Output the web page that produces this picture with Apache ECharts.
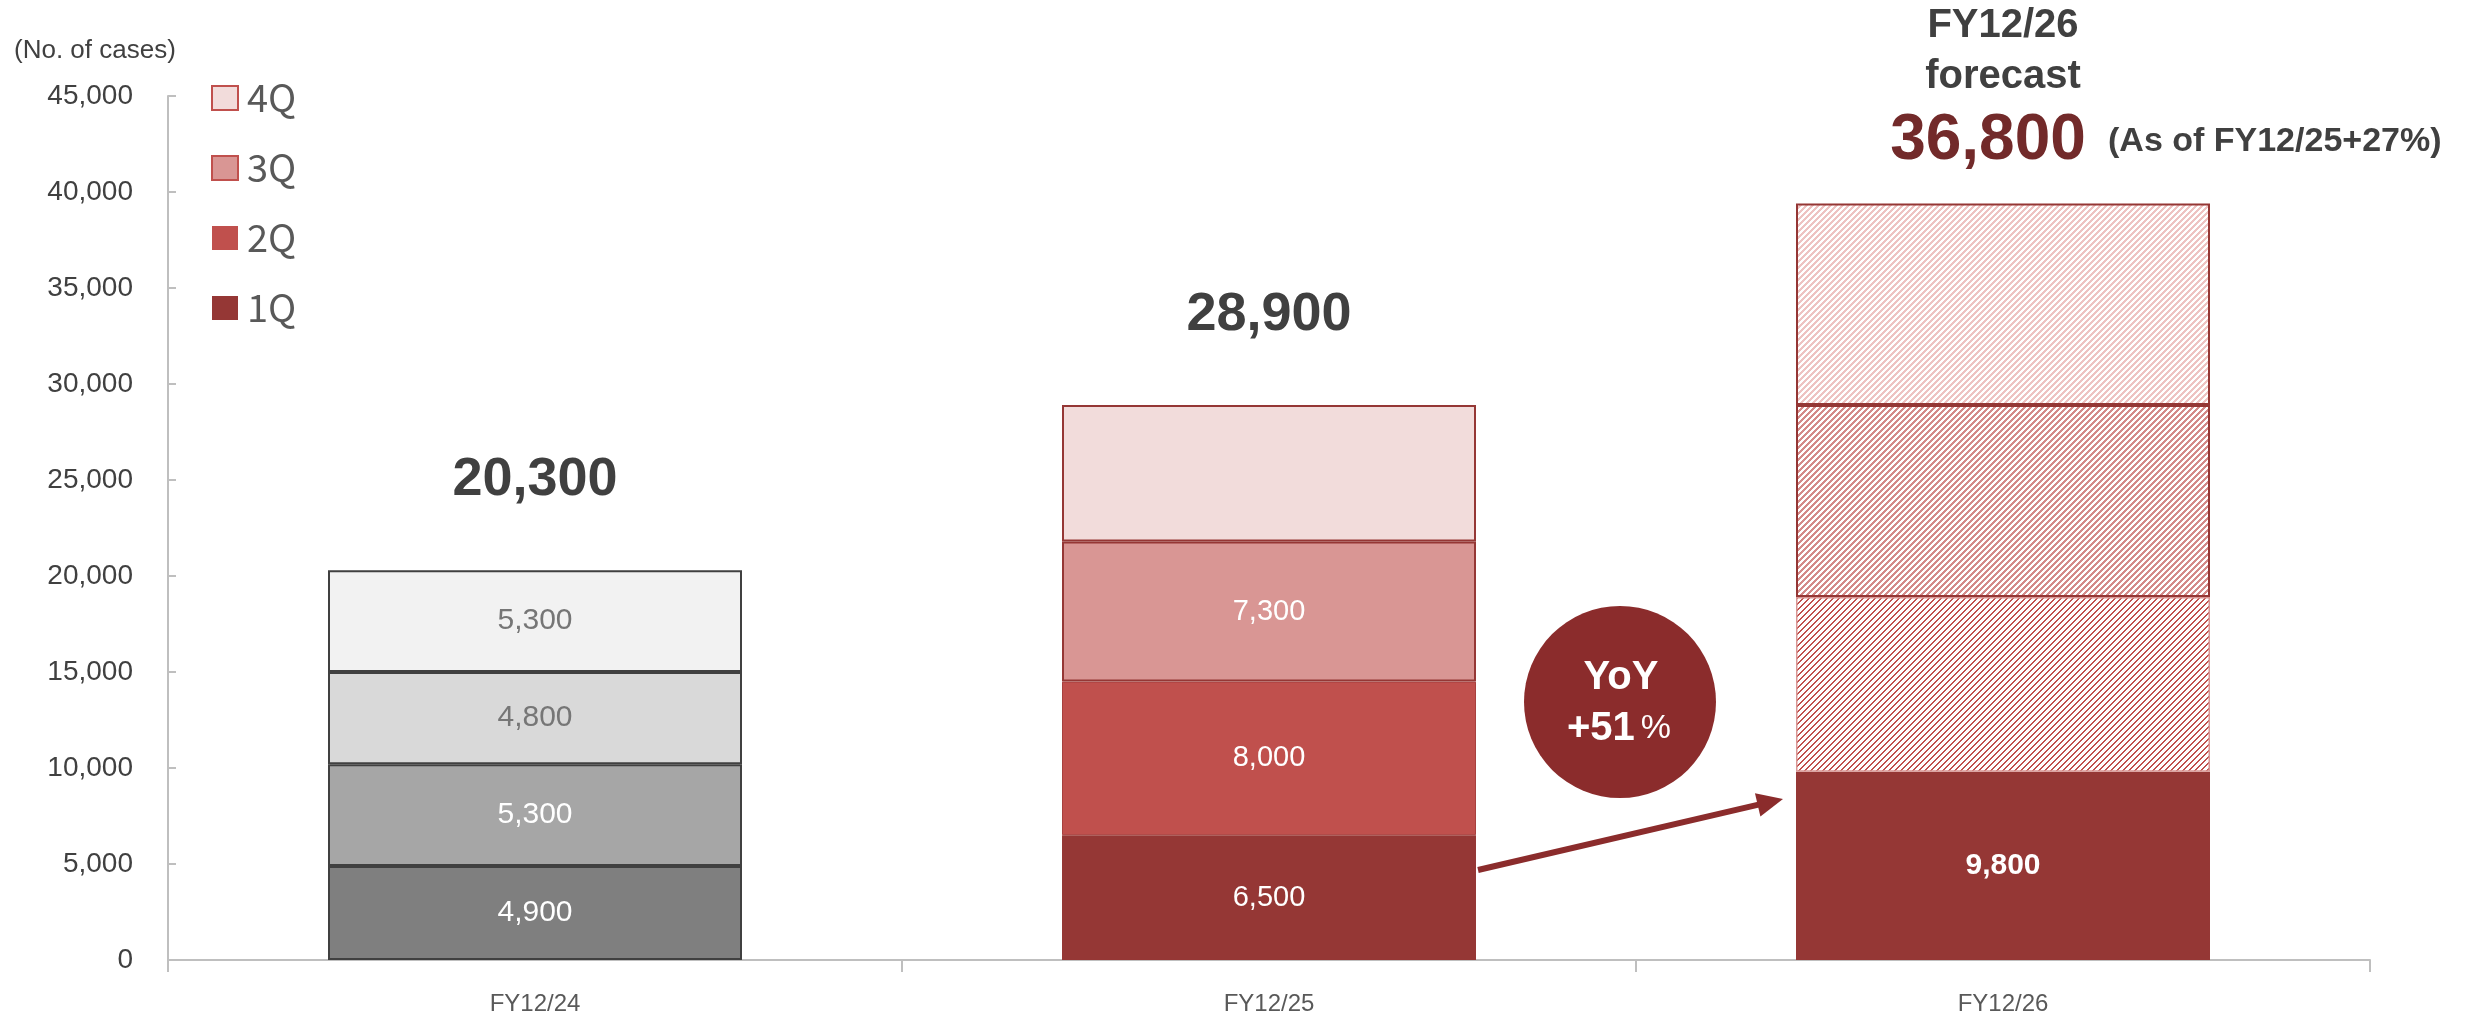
<!DOCTYPE html>
<html>
<head>
<meta charset="utf-8">
<title>Number of cases by quarter</title>
<script src="https://cdn.jsdelivr.net/npm/echarts@6/dist/echarts.min.js"></script>
<style>
  html, body { margin: 0; padding: 0; background: #ffffff; }
  #chart { width: 2469px; height: 1020px; }
</style>
</head>
<body>
<div id="chart"></div>
<script>
// ---- data ----
const categories = ['FY12/24', 'FY12/25', 'FY12/26'];
const quarterNames = ['1Q', '2Q', '3Q', '4Q'];
const q1 = [4900, 6500, 9800];
const q2 = [5300, 8000, 9100];
const q3 = [4800, 7300, 10000];
const q4 = [5300, 7100, 10500];
const totals = [20300, 28900];
const forecastTotal = 36800;
const forecastNote = '(As of FY12/25+27%)';
const yoyGrowth = 51;

// ---- styling ----
const FONT = "'Liberation Sans', Arial, sans-serif";
const NARROW = "'Liberation Sans Narrow', 'Arial Narrow', 'Liberation Sans', sans-serif";
const greyFill = ['#7f7f7f', '#a6a6a6', '#d9d9d9', '#f2f2f2'];
const greyText = ['#ffffff', '#ffffff', '#767676', '#767676'];
const redFill = ['#953735', '#c0504d', '#d99694', '#f2dcdb'];
const darkRed = '#953735';

// diagonal hatch tile used for the forecast quarters
function hatch(color, width) {
  const size = 6;
  const c = document.createElement('canvas');
  c.width = size; c.height = size;
  const ctx = c.getContext('2d');
  ctx.fillStyle = '#ffffff';
  ctx.fillRect(0, 0, size, size);
  ctx.fillStyle = color;
  for (let y = 0; y < size; y++) {
    for (let x = 0; x < size; x++) {
      if (((x + y) % size) < width) ctx.fillRect(x, y, 1, 1);
    }
  }
  return { image: c, repeat: 'repeat' };
}
const hatchFill = [null, hatch('#c0504d', 2), hatch('#d48a89', 3), hatch('#eec3c2', 3)];

const fmt = v => v.toLocaleString('en-US');
const quarterValues = [q1, q2, q3, q4];

function segment(qi, ci) {
  const value = quarterValues[qi][ci];
  const label = { show: true, position: 'inside', fontFamily: FONT, fontSize: 29, formatter: fmt(value) };
  let itemStyle;
  if (ci === 0) {
    itemStyle = { color: greyFill[qi], borderColor: '#404040', borderWidth: 2 };
    label.color = greyText[qi];
    label.fontFamily = NARROW;
    label.fontSize = 30;
  } else if (ci === 1) {
    itemStyle = { color: redFill[qi] };
    if (qi >= 2) { itemStyle.borderColor = darkRed; itemStyle.borderWidth = 2; }
    else if (qi === 1) { itemStyle.borderColor = '#a8403e'; itemStyle.borderWidth = 1; }
    label.color = '#ffffff';
    if (qi === 3) label.show = false;
  } else {
    if (qi === 0) {
      itemStyle = { color: redFill[0] };
      label.color = '#ffffff';
      label.fontWeight = 'bold';
      label.fontFamily = NARROW;
      label.fontSize = 30;
    } else {
      itemStyle = { color: hatchFill[qi] };
      if (qi >= 2) { itemStyle.borderColor = darkRed; itemStyle.borderWidth = 2; }
      else { itemStyle.borderColor = '#d99694'; itemStyle.borderWidth = 1.5; }
      label.show = false;
    }
  }
  return { value, itemStyle, label };
}

const barSeries = quarterNames.map((name, qi) => ({
  name,
  type: 'bar',
  stack: 'cases',
  barWidth: 414,
  itemStyle: { color: redFill[qi] },
  emphasis: { disabled: true },
  data: categories.map((_, ci) => segment(qi, ci))
}));

// totals printed above the completed years
const totalSeries = {
  name: 'Total',
  type: 'scatter',
  symbolSize: 1,
  itemStyle: { color: 'rgba(0,0,0,0)', opacity: 1 },
  silent: true,
  data: totals.map((t, i) => [i, t]),
  label: {
    show: true,
    position: 'inside',
    offset: [0, -90],
    formatter: p => fmt(p.value[1]),
    fontFamily: FONT,
    fontSize: 54,
    fontWeight: 'bold',
    color: '#404040',
    opacity: 1
  }
};

const legendData = ['4Q', '3Q', '2Q', '1Q'].map(n => {
  const qi = quarterNames.indexOf(n);
  return {
    name: n,
    itemStyle: { color: redFill[qi], borderColor: '#c0504d', borderWidth: qi >= 2 ? 2 : 0 }
  };
});

// arrow from FY12/25 1Q to FY12/26 1Q
const arrowFrom = [1478, 870];
const arrowTo = [1783, 799];
const dx = arrowTo[0] - arrowFrom[0], dy = arrowTo[1] - arrowFrom[1];
const len = Math.hypot(dx, dy), ux = dx / len, uy = dy / len;
const headLen = 26, headHalf = 12;
const base = [arrowTo[0] - ux * headLen, arrowTo[1] - uy * headLen];

const option = {
  backgroundColor: '#ffffff',
  animation: false,
  grid: { left: 168, right: 99, top: 96, bottom: 60 },
  legend: {
    orient: 'vertical',
    left: 211,
    top: 79,
    padding: 0,
    itemWidth: 26,
    itemHeight: 24,
    itemGap: 32,
    icon: 'rect',
    selectedMode: false,
    data: legendData,
    textStyle: { fontFamily: "'Noto Sans CJK JP', 'Noto Sans', sans-serif", fontSize: 38, color: '#595959', padding: [0, 0, 0, 4] }
  },
  xAxis: {
    type: 'category',
    data: categories,
    axisLine: { lineStyle: { color: '#bfbfbf', width: 2 } },
    axisTick: { show: true, length: 12, lineStyle: { color: '#bfbfbf', width: 2 } },
    axisLabel: { fontFamily: FONT, fontSize: 24, color: '#595959', margin: 32 }
  },
  yAxis: {
    type: 'value',
    min: 0,
    max: 45000,
    interval: 5000,
    splitLine: { show: false },
    axisLine: { show: true, lineStyle: { color: '#bfbfbf', width: 2 } },
    axisTick: { show: true, inside: true, length: 8, lineStyle: { color: '#bfbfbf', width: 2 } },
    axisLabel: { fontFamily: FONT, fontSize: 28, color: '#404040', margin: 35, formatter: v => fmt(v) }
  },
  series: [...barSeries, totalSeries],
  graphic: [
    { type: 'text', left: 14, top: 38, style: { text: '(No. of cases)', font: `26px ${FONT}`, fill: '#404040' } },
    { type: 'text', x: 2003, y: 26, style: { text: 'FY12/26', font: `bold 40px ${FONT}`, fill: '#404040', align: 'center', verticalAlign: 'middle' } },
    { type: 'text', x: 2003, y: 77, style: { text: 'forecast', font: `bold 40px ${FONT}`, fill: '#404040', align: 'center', verticalAlign: 'middle' } },
    { type: 'text', x: 1988, y: 141, style: { text: fmt(forecastTotal), font: `bold 64px ${FONT}`, fill: '#722a2a', align: 'center', verticalAlign: 'middle' } },
    { type: 'text', x: 2108, y: 142, style: { text: forecastNote, font: `bold 34px ${FONT}`, fill: '#404040', align: 'left', verticalAlign: 'middle' } },
    { type: 'circle', shape: { cx: 1620, cy: 702, r: 96 }, style: { fill: '#8b2c2c' } },
    { type: 'text', x: 1621, y: 678, style: { text: 'YoY', font: `bold 40px ${FONT}`, fill: '#ffffff', align: 'center', verticalAlign: 'middle' } },
    {
      type: 'text', x: 1619, y: 729,
      style: {
        text: `{b|+${yoyGrowth}}{p|%}`,
        align: 'center', verticalAlign: 'middle',
        rich: {
          b: { font: `bold 40px ${FONT}`, fill: '#ffffff' },
          p: { font: `34px ${FONT}`, fill: '#ffffff', padding: [0, 0, 0, 6] }
        }
      }
    },
    { type: 'line', shape: { x1: arrowFrom[0], y1: arrowFrom[1], x2: base[0] + ux * 2, y2: base[1] + uy * 2 }, style: { stroke: '#8b2c2c', lineWidth: 6 } },
    {
      type: 'polygon',
      shape: { points: [arrowTo, [base[0] - uy * headHalf, base[1] + ux * headHalf], [base[0] + uy * headHalf, base[1] - ux * headHalf]] },
      style: { fill: '#8b2c2c' }
    }
  ]
};

const chart = echarts.init(document.getElementById('chart'), null, { renderer: 'canvas' });
chart.setOption(option);
</script>
</body>
</html>
